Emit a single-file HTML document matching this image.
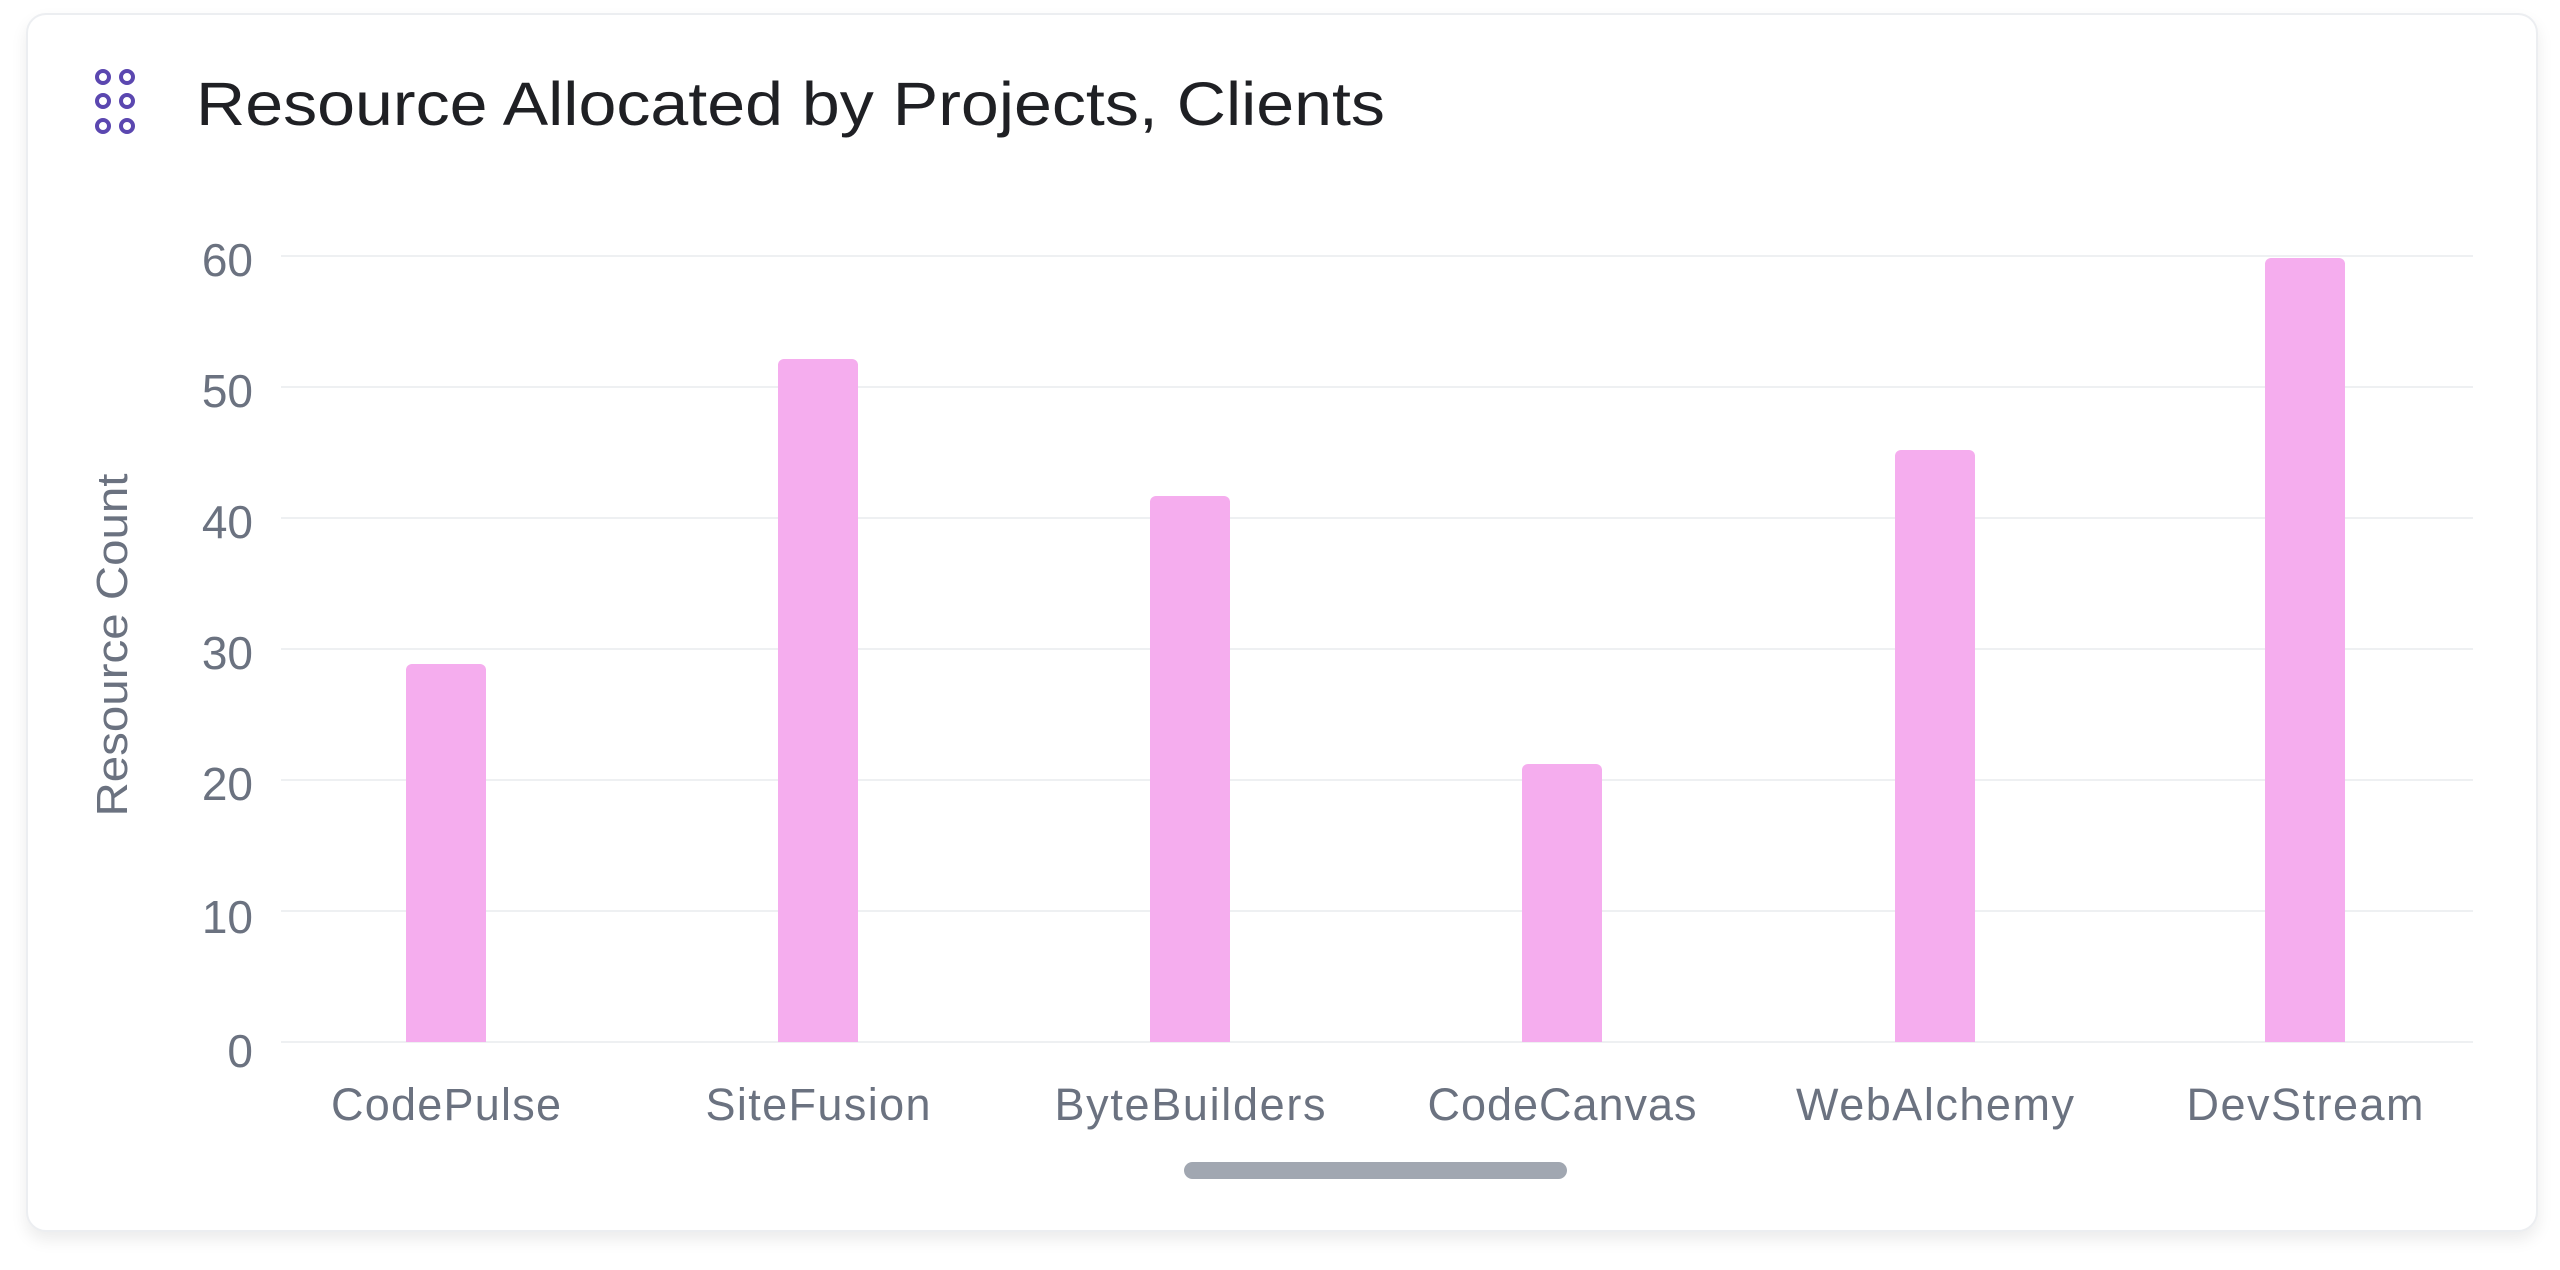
<!DOCTYPE html>
<html><head><meta charset="utf-8"><style>
html,body{margin:0;padding:0;background:#fff;width:2560px;height:1270px;overflow:hidden}
body{font-family:"Liberation Sans",sans-serif}
</style></head><body>
<div style="position:absolute;left:26px;top:13px;width:2508px;height:1215px;border-radius:20px;background:#fff;border:2px solid #eceef1;box-shadow:0 8px 16px rgba(0,0,0,0.08)"></div>
<svg width="2560" height="1270" style="position:absolute;left:0;top:0" font-family="Liberation Sans, sans-serif">
<g fill="none" stroke="#5b47b0" stroke-width="4">
<circle cx="103" cy="77" r="6"/><circle cx="127" cy="77" r="6"/>
<circle cx="103" cy="101" r="6"/><circle cx="127" cy="101" r="6"/>
<circle cx="103" cy="126" r="6"/><circle cx="127" cy="126" r="6"/>
</g>
<text x="196" y="125" font-size="61" fill="#1f2024" textLength="1189" lengthAdjust="spacingAndGlyphs">Resource Allocated by Projects, Clients</text>
<g stroke="#eef0f2" stroke-width="2">
<line x1="281" x2="2473" y1="256" y2="256"/><line x1="281" x2="2473" y1="387" y2="387"/>
<line x1="281" x2="2473" y1="518" y2="518"/><line x1="281" x2="2473" y1="649" y2="649"/>
<line x1="281" x2="2473" y1="780" y2="780"/><line x1="281" x2="2473" y1="911" y2="911"/>
<line x1="281" x2="2473" y1="1042" y2="1042"/>
</g>
<g font-size="46" fill="#6b7280" text-anchor="end">
<text x="253" y="276">60</text><text x="253" y="407">50</text><text x="253" y="538">40</text>
<text x="253" y="669">30</text><text x="253" y="800">20</text><text x="253" y="933">10</text>
<text x="253" y="1067">0</text>
</g>
<text transform="translate(127,645) rotate(-90)" font-size="44" fill="#6b7280" text-anchor="middle" textLength="343" lengthAdjust="spacingAndGlyphs">Resource Count</text>
<g fill="#f5adee">
<path d="M406 1042V670a6 6 0 0 1 6-6h68a6 6 0 0 1 6 6V1042z"/>
<path d="M778 1042V365a6 6 0 0 1 6-6h68a6 6 0 0 1 6 6V1042z"/>
<path d="M1150 1042V502a6 6 0 0 1 6-6h68a6 6 0 0 1 6 6V1042z"/>
<path d="M1522 1042V770a6 6 0 0 1 6-6h68a6 6 0 0 1 6 6V1042z"/>
<path d="M1895 1042V456a6 6 0 0 1 6-6h68a6 6 0 0 1 6 6V1042z"/>
<path d="M2265 1042V264a6 6 0 0 1 6-6h68a6 6 0 0 1 6 6V1042z"/>
</g>
<g font-size="45" fill="#6b7280" text-anchor="middle" lengthAdjust="spacingAndGlyphs">
<text x="446" y="1120" textLength="230">CodePulse</text><text x="818" y="1120" textLength="225">SiteFusion</text>
<text x="1190" y="1120" textLength="271">ByteBuilders</text><text x="1562" y="1120" textLength="269">CodeCanvas</text>
<text x="1935" y="1120" textLength="278">WebAlchemy</text><text x="2305" y="1120" textLength="237">DevStream</text>
</g>
<rect x="1184" y="1162" width="383" height="17" rx="8.5" fill="#a1a7b1"/>
</svg>
</body></html>
